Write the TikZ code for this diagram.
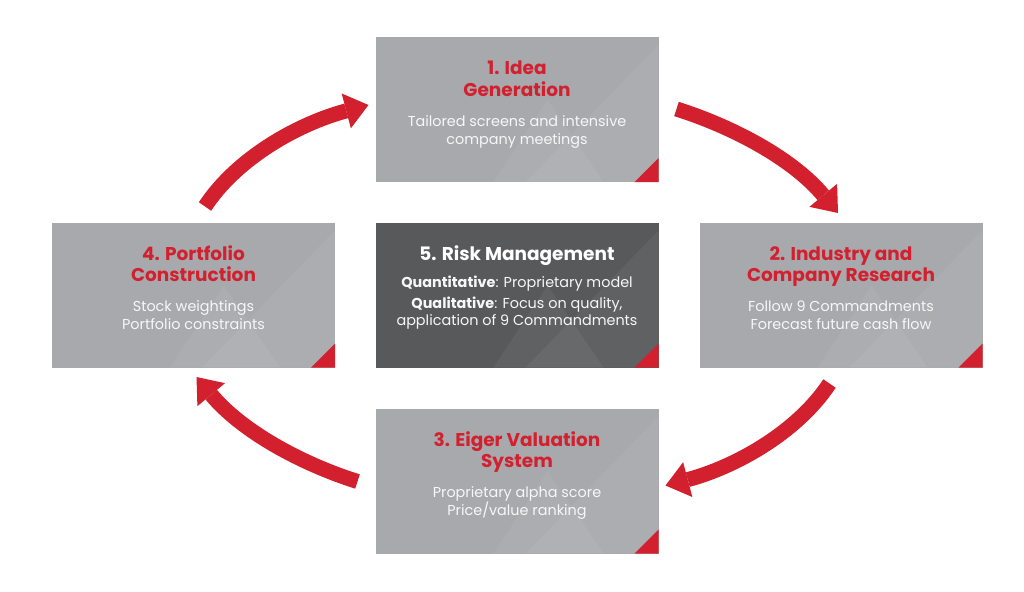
\documentclass[tikz,border=0pt]{standalone}
\usepackage{fontspec}
\setmainfont{Poppins}
\usetikzlibrary{arrows.meta,calc}
\definecolor{ered}{HTML}{D2202F}
\definecolor{boxgray}{HTML}{A7A9AC}
\definecolor{boxdark}{HTML}{58595B}
\definecolor{txtw}{HTML}{F7F7F7}
\tikzset{
  stage/.style={rectangle, minimum width=283pt, minimum height=145pt, inner sep=0pt, outer sep=0pt, fill=boxgray},
  darkstage/.style={stage, fill=boxdark},
  ttl/.style={anchor=base, text=ered, font=\fontsize{18.5}{21}\selectfont\bfseries, inner sep=0pt},
  ttlw/.style={ttl, text=white},
  bodytxt/.style={anchor=base, text=txtw, font=\fontsize{14.4}{17}\selectfont, inner sep=0pt},
  flow/.style={draw=ered, line width=15pt, -{Triangle[length=23pt,width=36pt,line width=0pt,fill=ered]}},
  corner/.style={fill=ered},
  sheen/.style={fill=white, opacity=0.05},
}
\newcommand\stagedeco[1]{%
  \fill[sheen] ($(#1.south west)+(118,0)$) -- ($(#1.south west)+(172,-82)$) -- ($(#1.south west)+(228,0)$) -- cycle;
  \fill[sheen] ($(#1.south west)+(150,0)$) -- ($(#1.north east)+(0,8)$) -- ($(#1.south east)$) -- cycle;
  \fill[corner] (#1.south east) -- ++(-24,0) -- ++(24,-24) -- cycle;
}
\begin{document}
\begin{tikzpicture}[x=1pt,y=-1pt]
\useasboundingbox[fill=white] (0,0) rectangle (1024,591);
% boxes
\node[stage] (b1) at (517,109.5) {};
\node[stage] (b2) at (841,295) {};
\node[stage] (b3) at (517,481) {};
\node[stage] (b4) at (193.5,295) {};
\node[darkstage] (b5) at (517,295) {};
\stagedeco{b1}\stagedeco{b2}\stagedeco{b3}\stagedeco{b4}\stagedeco{b5}
% box 1
\node[ttl] (t1a) at ($(b1.north)+(0,38)$) {1. Idea};
\node[ttl] (t1b) at ($(b1.north)+(0,59)$) {Generation};
\node[bodytxt] (d1a) at ($(b1.north)+(0,89)$) {Tailored screens and intensive};
\node[bodytxt] (d1b) at ($(b1.north)+(0,107)$) {company meetings};
% box 2
\node[ttl] (t2a) at ($(b2.north)+(0,38)$) {2. Industry and};
\node[ttl] (t2b) at ($(b2.north)+(0,59)$) {Company Research};
\node[bodytxt] (d2a) at ($(b2.north)+(0,89)$) {Follow 9 Commandments};
\node[bodytxt] (d2b) at ($(b2.north)+(0,107)$) {Forecast future cash flow};
% box 3
\node[ttl] (t3a) at ($(b3.north)+(0,38)$) {3. Eiger Valuation};
\node[ttl] (t3b) at ($(b3.north)+(0,59)$) {System};
\node[bodytxt] (d3a) at ($(b3.north)+(0,89)$) {Proprietary alpha score};
\node[bodytxt] (d3b) at ($(b3.north)+(0,107)$) {Price/value ranking};
% box 4
\node[ttl] (t4a) at ($(b4.north)+(0,38)$) {4. Portfolio};
\node[ttl] (t4b) at ($(b4.north)+(0,59)$) {Construction};
\node[bodytxt] (d4a) at ($(b4.north)+(0,89)$) {Stock weightings};
\node[bodytxt] (d4b) at ($(b4.north)+(0,107)$) {Portfolio constraints};
% box 5
\node[ttlw] (t5) at ($(b5.north)+(0,38)$) {5. Risk Management};
\node[bodytxt] (d5a) at ($(b5.north)+(0,65)$) {\textbf{Quantitative}: Proprietary model};
\node[bodytxt] (d5b) at ($(b5.north)+(0,86)$) {\textbf{Qualitative}: Focus on quality,};
\node[bodytxt] (d5c) at ($(b5.north)+(0,103)$) {application of 9 Commandments};
% arrows
\draw[flow] ($(b4.north)+(11.5,-16)$) .. controls +(33,-50) and +(-68,18) .. ($(b1.west)+(-7,-4.5)$);
\draw[flow] ($(b1.east)+(18,-0.5)$) .. controls +(57,18) and +(-45,-54) .. ($(b2.north)+(-3,-9.5)$);
\draw[flow] ($(b2.south)+(-11.5,16)$) .. controls +(-33,50) and +(68,-18) .. ($(b3.east)+(7,4.5)$);
\draw[flow] ($(b3.west)+(-18,0.5)$) .. controls +(-57,-18) and +(45,54) .. ($(b4.south)+(3,9.5)$);
\end{tikzpicture}
\end{document}
